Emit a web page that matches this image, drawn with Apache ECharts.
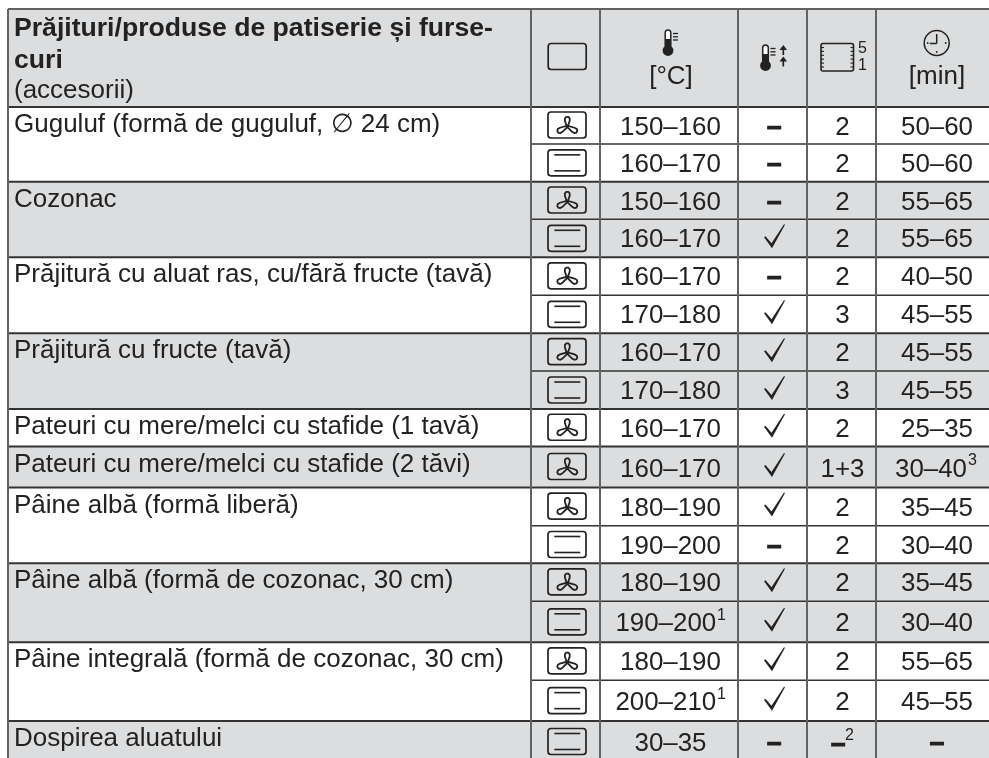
<!DOCTYPE html>
<html>
<head>
<meta charset="utf-8">
<style>html,body{margin:0;padding:0;background:#fff;overflow:hidden}#main{width:989px;height:758px}</style>
<script src="https://cdn.jsdelivr.net/npm/echarts@6/dist/echarts.min.js"></script>
</head>
<body>
<div id="main"></div>
<script>
// table contents
var headerBold = ['Prăjituri/produse de patiserie și furse-', 'curi'];
var headerNote = '(accesorii)';
var tempUnit = '[°C]';
var timeUnit = '[min]';
var shelfTop = '5';
var shelfBottom = '1';

var products = ['Guguluf (formă de guguluf, ∅ 24 cm)', 'Cozonac', 'Prăjitură cu aluat ras, cu/fără fructe (tavă)',
	'Prăjitură cu fructe (tavă)', 'Pateuri cu mere/melci cu stafide (1 tavă)', 'Pateuri cu mere/melci cu stafide (2 tăvi)',
	'Pâine albă (formă liberă)', 'Pâine albă (formă de cozonac, 30 cm)', 'Pâine integrală (formă de cozonac, 30 cm)',
	'Dospirea aluatului'];
var productSpans = [2, 2, 2, 2, 1, 1, 2, 2, 2, 1];

// f = fan, t = top/bottom heat
var programs = ['f', 't', 'f', 't', 'f', 't', 'f', 't', 'f', 'f', 'f', 't', 'f', 't', 'f', 't', 't'];
var temps = ['150–160', '160–170', '150–160', '160–170', '160–170', '170–180', '160–170', '170–180', '160–170',
	'160–170', '180–190', '190–200', '180–190', '190–200', '180–190', '200–210', '30–35'];
var tempNotes = ['', '', '', '', '', '', '', '', '', '', '', '', '', '1', '', '1', ''];
var preheat = [0, 0, 0, 1, 0, 1, 1, 1, 1, 1, 1, 0, 1, 1, 1, 1, 0];
var shelves = ['2', '2', '2', '2', '2', '3', '2', '3', '2', '1+3', '2', '2', '2', '2', '2', '2', '–'];
var shelfNotes = ['', '', '', '', '', '', '', '', '', '', '', '', '', '', '', '', '2'];
var times = ['50–60', '50–60', '55–65', '55–65', '40–50', '45–55', '45–55', '45–55', '25–35', '30–40', '35–45', '30–40',
	'35–45', '30–40', '55–65', '45–55', '–'];
var timeNotes = ['', '', '', '', '', '', '', '', '', '3', '', '', '', '', '', '', ''];

// layout, in axis units (same as page pixels)
var colEdges = [8, 531, 600, 738, 807, 876, 998];
var rowEdges = [107, 144, 181.7, 219.3, 257.3, 295.3, 333.3, 371, 409, 446.5, 487.5, 525.7, 563.3, 601.3, 642.3, 680.3, 721, 762];
var headerTop = 9;
var fontName = '"Liberation Sans", Arial, sans-serif';
var ink = '#222', lineColor = '#626262', ruleColor = '#333', shade = '#dcddde';
var textSize = 26, boldSize = 26.6, numSize = 25.9, noteSize = 16;

function txt(x, y, s, size, opts) {
	opts = opts || {};
	var style = {
		x: x, y: y, text: s, fill: ink,
		font: (opts.bold ? 'bold ' : '') + size + 'px ' + fontName,
		textAlign: opts.align || 'center', textVerticalAlign: 'middle'
	};
	if (opts.heavy) {
		style.stroke = ink;
		style.lineWidth = 1.2;
	}
	return { type: 'text', style: style };
}
function line(x1, y1, x2, y2, w, c) {
	return { type: 'line', shape: { x1: x1, y1: y1, x2: x2, y2: y2 }, style: { stroke: c || lineColor, lineWidth: w || 2 } };
}
function stroked(type, shape, w) {
	return { type: type, shape: shape, style: { fill: 'none', stroke: ink, lineWidth: w || 1.6 } };
}
function solid(type, shape) {
	return { type: type, shape: shape, style: { fill: ink } };
}

function fanIcon(cx, cy) {
	var out = [stroked('rect', { x: cx - 19.3, y: cy - 13.5, width: 38, height: 26, r: 3 }, 1.7)];
	var oy = cy + 0.8;
	[[-90, 9.5], [30, 11], [150, 11]].forEach(function (b) {
		var a = b[0] * Math.PI / 180, len = b[1];
		// blade outline: narrow at the hub, rounded at the tip
		var outline = [[0.8, -0.8], [len - 4, -2.4], [len - 1.5, -2.4], [len, -1], [len, 1], [len - 1.5, 2.4], [len - 4, 2.4], [0.8, 0.8]];
		var pts = outline.map(function (q) {
			return [cx + q[0] * Math.cos(a) - q[1] * Math.sin(a), oy + q[0] * Math.sin(a) + q[1] * Math.cos(a)];
		});
		out.push(stroked('polygon', { points: pts }, 1.8));
	});
	return out;
}
function heatIcon(cx, cy) {
	return [
		stroked('rect', { x: cx - 19.3, y: cy - 13, width: 38, height: 26, r: 3 }, 1.7),
		line(cx - 13, cy - 8, cx + 13, cy - 8, 1.6, ink),
		line(cx - 13, cy + 8, cx + 13, cy + 8, 1.6, ink)
	];
}
function checkIcon(cx, cy) {
	return [{
		type: 'polygon',
		shape: { points: [[cx - 8.5, cy - 1], [cx - 7, cy - 2], [cx - 1, cy + 5], [cx + 11.5, cy - 14], [cx + 12.5, cy - 13.5], [cx - 0.5, cy + 10]] },
		style: { fill: ink }
	}];
}
function thermometer(cx, top) {
	return [
		{ type: 'rect', shape: { x: cx - 2.8, y: top, width: 5.6, height: 18, r: 2.8 }, style: { fill: '#fff', stroke: ink, lineWidth: 1.5 } },
		solid('rect', { x: cx - 2.8, y: top + 9, width: 5.6, height: 10 }),
		solid('circle', { cx: cx, cy: top + 20.5, r: 5.4 }),
		line(cx + 5, top + 3.5, cx + 10, top + 3.5, 1.3, ink),
		line(cx + 5, top + 6.8, cx + 10, top + 6.8, 1.3, ink),
		line(cx + 5, top + 10, cx + 10, top + 10, 1.3, ink)
	];
}
function arrowUp(cx, y) {
	return [
		line(cx, y + 2, cx, y + 9.5, 1.7, ink),
		{ type: 'polygon', shape: { points: [[cx - 3.8, y + 4.5], [cx, y - 0.5], [cx + 3.8, y + 4.5]] }, style: { fill: ink } }
	];
}

function renderHeader(params, api) {
	var c = function (x, y) { return api.coord([x, y]); };
	var tl = c(colEdges[0], headerTop), br = c(colEdges[6], rowEdges[0]);
	var kids = [{ type: 'rect', shape: { x: tl[0], y: tl[1], width: br[0] - tl[0], height: br[1] - tl[1] }, style: { fill: shade } }];
	var p;
	p = c(14, 29); kids.push(txt(p[0], p[1], headerBold[0], boldSize, { bold: true, align: 'left' }));
	p = c(14, 61); kids.push(txt(p[0], p[1], headerBold[1], boldSize, { bold: true, align: 'left' }));
	p = c(14, 90.5); kids.push(txt(p[0], p[1], headerNote, textSize, { align: 'left' }));

	p = c(567.5, 56.5);
	kids.push(stroked('rect', { x: p[0] - 19.3, y: p[1] - 13, width: 38, height: 26, r: 3 }, 1.7));

	p = c(668, 30); kids = kids.concat(thermometer(p[0], p[1]));
	p = c(671, 76.7); kids.push(txt(p[0], p[1], tempUnit, textSize));

	p = c(765.5, 45); kids = kids.concat(thermometer(p[0], p[1]));
	p = c(783.3, 45.5); kids = kids.concat(arrowUp(p[0], p[1]));
	p = c(783.3, 57); kids = kids.concat(arrowUp(p[0], p[1]));

	p = c(821, 43.5);
	kids.push(stroked('rect', { x: p[0], y: p[1], width: 32.5, height: 27.5, r: 2 }, 1.6));
	for (var i = 0; i < 6; i++) {
		var ty = p[1] + 4 + i * 3.9;
		kids.push(line(p[0], ty, p[0] + 3, ty, 1.1, ink));
		kids.push(line(p[0] + 29.5, ty, p[0] + 32.5, ty, 1.1, ink));
	}
	p = c(858, 49); kids.push(txt(p[0], p[1], shelfTop, noteSize, { align: 'left' }));
	p = c(858, 66); kids.push(txt(p[0], p[1], shelfBottom, noteSize, { align: 'left' }));

	p = c(936.7, 43);
	kids.push(stroked('circle', { cx: p[0], cy: p[1], r: 12.5 }, 1.5));
	kids.push(line(p[0], p[1] - 9, p[0], p[1] + 0.5, 1.5, ink));
	kids.push(line(p[0] - 7, p[1] + 0.5, p[0], p[1] + 0.5, 1.5, ink));
	kids.push(solid('circle', { cx: p[0] - 9, cy: p[1], r: 0.9 }));
	kids.push(solid('circle', { cx: p[0] + 9, cy: p[1], r: 0.9 }));
	kids.push(solid('circle', { cx: p[0], cy: p[1] + 9, r: 0.9 }));
	p = c(937, 76.7); kids.push(txt(p[0], p[1], timeUnit, textSize));

	return { type: 'group', children: kids };
}

function renderRow(params, api) {
	var r = api.value(0);
	var top = api.coord([0, rowEdges[r]])[1], bot = api.coord([0, rowEdges[r + 1]])[1];
	var x = colEdges.map(function (e) { return api.coord([e, 0])[0]; });
	var cy = (top + bot) / 2;
	var kids = [];
	// which product group the row sits in
	var g = 0, n = 0;
	while (n + productSpans[g] <= r) { n += productSpans[g]; g++; }
	if (g % 2 === 1) {
		// whole pixels, or a seam shows between two shaded rows
		var ft = Math.round(top), fb = Math.round(bot);
		kids.push({ type: 'rect', shape: { x: x[0], y: ft, width: x[6] - x[0], height: fb - ft }, style: { fill: shade } });
	}
	if (r === n) {
		kids.push(txt(x[0] + 6, top + 18, products[g], textSize, { align: 'left' }));
	}
	if (programs[r] === 'f') kids = kids.concat(fanIcon((x[1] + x[2]) / 2 + 1.8, cy));
	else kids = kids.concat(heatIcon((x[1] + x[2]) / 2 + 1.8, cy));

	var numY = timeNotes[r] ? cy + 3 : cy + 2;
	var dashY = cy + 2;
	var tc = (x[2] + x[3]) / 2 + 1.5;
	if (tempNotes[r]) {
		kids.push(txt(tc - 4.7, cy + 2.5, temps[r], numSize));
		kids.push(txt(tc + 46.5, cy - 6, tempNotes[r], noteSize, { align: 'left' }));
	} else {
		kids.push(txt(tc, numY, temps[r], numSize));
	}
	var pc = (x[3] + x[4]) / 2;
	if (preheat[r]) kids = kids.concat(checkIcon(pc, cy));
	else kids.push(txt(pc + 1.8, dashY, '–', numSize, { bold: true, heavy: true }));

	var sc = (x[4] + x[5]) / 2;
	if (shelfNotes[r]) {
		kids.push(txt(sc - 3.2, cy + 3.5, shelves[r], numSize, { bold: true, heavy: true }));
		kids.push(txt(sc + 3.5, cy - 5.5, shelfNotes[r], noteSize, { align: 'left' }));
	} else {
		kids.push(txt(sc + 1, numY, shelves[r], numSize));
	}
	var mc = (x[5] + x[6]) / 2;
	if (timeNotes[r]) {
		kids.push(txt(mc - 6, numY, times[r], numSize));
		kids.push(txt(mc + 31, cy - 6, timeNotes[r], noteSize, { align: 'left' }));
	} else if (times[r] === '–') {
		kids.push(txt(mc, dashY, times[r], numSize, { bold: true, heavy: true }));
	} else {
		kids.push(txt(mc, numY, times[r], numSize));
	}
	return { type: 'group', children: kids };
}

// rules go on top of the cell fills
function renderRules(params, api) {
	var c = function (x, y) { return api.coord([x, y]); };
	var kids = [];
	var a = c(colEdges[0], headerTop), b = c(colEdges[6], headerTop);
	kids.push(line(a[0], a[1], b[0], b[1], 2));
	var n = 0, starts = {};
	productSpans.forEach(function (s) { starts[n] = 1; n += s; });
	for (var r = 0; r < rowEdges.length - 1; r++) {
		var from = starts[r] ? colEdges[0] : colEdges[1];
		a = c(from, rowEdges[r]); b = c(colEdges[6], rowEdges[r]);
		kids.push(line(a[0], a[1], b[0], b[1], starts[r] ? 2 : 1.6, ruleColor));
	}
	for (var i = 0; i < colEdges.length - 1; i++) {
		a = c(colEdges[i], headerTop); b = c(colEdges[i], 762);
		kids.push(line(a[0], a[1], b[0], b[1], 2));
	}
	return { type: 'group', children: kids };
}

var rowIndex = temps.map(function (t, i) { return [i]; });

var myChart = echarts.init(document.getElementById('main'), null, { renderer: 'canvas' });

var option = {
	animation: false,
	backgroundColor: '#fff',
	grid: { left: 0, right: 0, top: 0, bottom: 0 },
	xAxis: { type: 'value', min: 0, max: 989, show: false },
	yAxis: { type: 'value', min: 0, max: 758, inverse: true, show: false },
	tooltip: { show: false },
	series: [
		{ type: 'custom', coordinateSystem: 'cartesian2d', clip: true, silent: true, encode: { x: 0, y: 0 }, data: [[0]], renderItem: renderHeader },
		{ type: 'custom', coordinateSystem: 'cartesian2d', clip: true, silent: true, encode: { y: 0 }, data: rowIndex, renderItem: renderRow },
		{ type: 'custom', coordinateSystem: 'cartesian2d', clip: true, silent: true, encode: { x: 0, y: 0 }, data: [[0]], renderItem: renderRules }
	]
};

myChart.setOption(option);
</script>
</body>
</html>
